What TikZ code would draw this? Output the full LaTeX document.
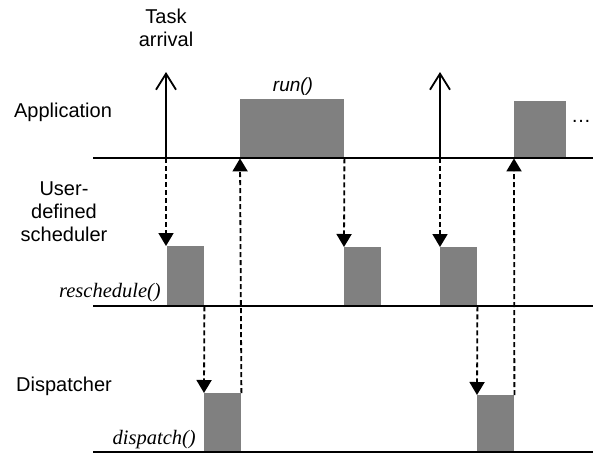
\documentclass[tikz,border=0pt]{standalone}
\usepackage{fontspec}
\setmainfont{Liberation Sans}
\newfontfamily\timesfont{Liberation Serif}
\usetikzlibrary{arrows.meta}
\begin{document}
\begin{tikzpicture}[x=1pt,y=-1pt,
  lbl/.style={font=\fontsize{20}{23}\selectfont,inner sep=0pt,align=center},
  fnlbl/.style={font=\timesfont\itshape\fontsize{20.5}{23}\selectfont,inner sep=0pt},
  timeline/.style={line width=1.8pt},
  slot/.style={fill=black!50,draw=none,inner sep=0pt,anchor=north west},
  dsh/.style={line width=1.8pt,dash pattern=on 5pt off 3pt,-{Triangle[width=15pt,length=13pt]}},
  arrival/.style={line width=1.8pt,-{Straight Barb[width=20pt,length=16pt,line width=1.8pt]}}
]
\useasboundingbox (0,0) rectangle (593,455);
% boxes
\node[slot,minimum width=104pt,minimum height=59pt] (run1) at (240,99) {};
\node[slot,minimum width=52pt,minimum height=57pt] (run2) at (514,101) {};
\node[slot,minimum width=37pt,minimum height=60pt] (s1) at (167,246) {};
\node[slot,minimum width=37pt,minimum height=59pt] (s2) at (344,247) {};
\node[slot,minimum width=37pt,minimum height=59pt] (s3) at (440,247) {};
\node[slot,minimum width=37pt,minimum height=59pt] (d1) at (204,393) {};
\node[slot,minimum width=37pt,minimum height=57pt] (d2) at (477,395) {};
% timelines
\coordinate (aL) at (93,158); \coordinate (aR) at (593,158);
\coordinate (sL) at (93,306); \coordinate (sR) at (593,306);
\coordinate (dL) at (93,452); \coordinate (dR) at (593,452);
\draw[timeline] (aL) -- (aR);
\draw[timeline] (sL) -- (sR);
\draw[timeline] (dL) -- (dR);
% task arrivals
\coordinate (t1b) at (166,158); \coordinate (t1t) at (166,72);
\coordinate (t2b) at (440,158); \coordinate (t2t) at (440,72);
\draw[arrival] (t1b) -- (t1t);
\draw[arrival] (t2b) -- (t2t);
% dashed arrows
\draw[dsh] (t1b) -- (t1b |- s1.north);
\draw[dsh] (s1.south east) -- (d1.north west);
\draw[dsh] (d1.north east) -- (run1.south west);
\draw[dsh] (run1.south east) -- (s2.north west);
\draw[dsh] (t2b) -- (s3.north west);
\draw[dsh] (s3.south east) -- (d2.north west);
\draw[dsh] (d2.north east) -- (run2.south west);
% labels
\node[lbl] (task) at (166,28) {Task\\arrival};
\node[lbl] (app) at (63,112) {Application};
\node[lbl] (usr) at (64,212) {User-\\defined\\scheduler};
\node[lbl] (disp) at (64,386) {Dispatcher};
\node[fnlbl,anchor=base east] (resch) at (161,297) {reschedule()};
\node[fnlbl,anchor=base east] (dispf) at (196,444) {dispatch()};
\node[lbl,font=\itshape\fontsize{19}{23}\selectfont] (runl) at (293,87) {run()};
\node[lbl,anchor=west] (dots) at (571,121) {…};
\end{tikzpicture}
\end{document}
